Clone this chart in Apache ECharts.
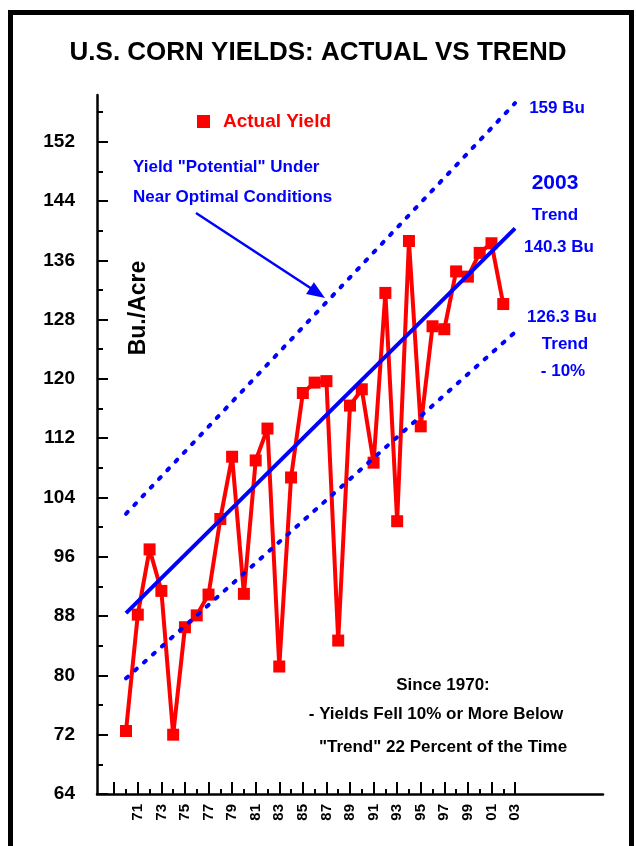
<!DOCTYPE html>
<html>
<head>
<meta charset="utf-8">
<script src="https://cdn.jsdelivr.net/npm/echarts@6/dist/echarts.min.js"></script>
<style>
html,body{margin:0;padding:0;background:#fff;}
#chart{width:636px;height:846px;}
</style>
</head>
<body>
<div id="chart"></div>
<script>
// ---- data ----
const years = [1970,1971,1972,1973,1974,1975,1976,1977,1978,1979,1980,1981,1982,1983,1984,1985,1986,1987,1988,1989,1990,1991,1992,1993,1994,1995,1996,1997,1998,1999,2000,2001,2002];
const actualYield = [72.5,88.2,97.0,91.4,72.0,86.5,88.1,90.9,101.1,109.5,91.0,109.0,113.3,81.2,106.7,118.1,119.5,119.7,84.7,116.4,118.6,108.7,131.6,100.8,138.6,113.6,127.1,126.7,134.5,133.8,137.0,138.3,130.1];
const trendYears = [1970, 2003];
const trendValues = [88.4, 140.3];
const upperValues = [101.8, 157.2];
const lowerValues = [79.6, 126.3];
const yMajorTicks = [64,72,80,88,96,104,112,120,128,136,144,152];
const yMinorTicks = [68,76,84,92,100,108,116,124,132,140,148,156];
const xMajorTicks = [1969,1971,1973,1975,1977,1979,1981,1983,1985,1987,1989,1991,1993,1995,1997,1999,2001,2003];
const xLabelYears = [1971,1973,1975,1977,1979,1981,1983,1985,1987,1989,1991,1993,1995,1997,1999,2001,2003];
const xMinorTicks = [1970,1972,1974,1976,1978,1980,1982,1984,1986,1988,1990,1992,1994,1996,1998,2000,2002];

const pair = (xs, ys) => xs.map((x, i) => [x, ys[i]]);
const FONT = 'Liberation Sans, Arial, sans-serif';
const BLUE = '#0000FF';
const RED = '#FF0000';

const chart = echarts.init(document.getElementById('chart'), null, {renderer: 'canvas'});
const yMin = 64, yMax = 158.3, xMin = 1967.54, xMax = 2010.46;

const option = {
  animation: false,
  backgroundColor: '#fff',
  grid: {left: 97, right: 33, top: 95, bottom: 52, containLabel: false},
  legend: {
    data: ['Actual Yield'],
    left: 197, top: 112, padding: 0,
    icon: 'rect', itemWidth: 13, itemHeight: 13,
    textStyle: {color: RED, fontSize: 19, fontWeight: 'bold', fontFamily: FONT, padding: [0,0,0,8]}
  },
  xAxis: [{
    type: 'value', min: xMin, max: xMax,
    axisLine: {show: true, lineStyle: {color: '#000', width: 2.5}},
    axisTick: {show: true, inside: true, length: 12, customValues: xMajorTicks, lineStyle: {color: '#000', width: 2}},
    axisLabel: {show: true, customValues: xLabelYears, rotate: 90, margin: 10,
      formatter: v => String(v).slice(2),
      color: '#000', fontSize: 15, fontWeight: 'bold', fontFamily: FONT},
    splitLine: {show: false}
  }, {
    type: 'value', min: xMin, max: xMax, position: 'bottom',
    axisLine: {show: false},
    axisTick: {show: true, inside: true, length: 5, customValues: xMinorTicks, lineStyle: {color: '#000', width: 2}},
    axisLabel: {show: false},
    splitLine: {show: false}
  }],
  yAxis: [{
    type: 'value', min: yMin, max: yMax,
    axisLine: {show: true, lineStyle: {color: '#000', width: 2.5}},
    axisTick: {show: true, inside: true, length: 11, customValues: yMajorTicks, lineStyle: {color: '#000', width: 2}},
    axisLabel: {show: true, customValues: yMajorTicks, margin: 22,
      color: '#000', fontSize: 19, fontWeight: 'bold', fontFamily: FONT},
    splitLine: {show: false}
  }, {
    type: 'value', min: yMin, max: yMax, position: 'left',
    axisLine: {show: false},
    axisTick: {show: true, inside: true, length: 6, customValues: yMinorTicks, lineStyle: {color: '#000', width: 2}},
    axisLabel: {show: false},
    splitLine: {show: false}
  }],
  series: [
    {
      name: 'Actual Yield', type: 'line', xAxisIndex: 0, yAxisIndex: 0,
      data: pair(years, actualYield),
      symbol: 'rect', symbolSize: 12,
      lineStyle: {color: RED, width: 4},
      itemStyle: {color: RED},
      z: 2
    },
    {
      name: 'Trend', type: 'line', xAxisIndex: 0, yAxisIndex: 0,
      data: pair(trendYears, trendValues),
      symbol: 'none', lineStyle: {color: BLUE, width: 4}, z: 3
    },
    {
      name: 'Potential', type: 'line', xAxisIndex: 0, yAxisIndex: 0,
      data: pair(trendYears, upperValues),
      symbol: 'none', lineStyle: {color: BLUE, width: 4, type: [2.5, 9.5], cap: 'round'}, z: 3
    },
    {
      name: 'Trend -10%', type: 'line', xAxisIndex: 0, yAxisIndex: 0,
      data: pair(trendYears, lowerValues),
      symbol: 'none', lineStyle: {color: BLUE, width: 4, type: [2.5, 9.5], cap: 'round'}, z: 3
    }
  ],
  graphic: [
    {type: 'rect', shape: {x: 10.5, y: 12.5, width: 621, height: 900}, style: {fill: null, stroke: '#000', lineWidth: 5}, silent: true},
    {type: 'text', left: 'center', x: 0, top: 40, style: {text: 'U.S. CORN YIELDS: ACTUAL VS TREND', fill: '#000', font: 'bold 26px ' + FONT, textAlign: 'center'}},
    {type: 'text', x: 133, y: 167, style: {text: 'Yield "Potential" Under', fill: BLUE, font: 'bold 17px ' + FONT, textVerticalAlign: 'middle'}},
    {type: 'text', x: 133, y: 197, style: {text: 'Near Optimal Conditions', fill: BLUE, font: 'bold 17px ' + FONT, textVerticalAlign: 'middle'}},
    {type: 'line', shape: {x1: 196, y1: 213, x2: 312, y2: 289}, style: {stroke: BLUE, lineWidth: 2.5}},
    {type: 'polygon', shape: {points: [[325,298],[306.1,294.0],[313.9,282.2]]}, style: {fill: BLUE}},
    {type: 'text', x: 139, y: 308, rotation: Math.PI/2, style: {text: 'Bu./Acre', fill: '#000', font: 'bold 23px ' + FONT, textAlign: 'center', textVerticalAlign: 'middle'}},
    {type: 'text', x: 557, y: 108, style: {text: '159 Bu', fill: BLUE, font: 'bold 17px ' + FONT, textAlign: 'center', textVerticalAlign: 'middle'}},
    {type: 'text', x: 555, y: 183, style: {text: '2003', fill: BLUE, font: 'bold 21px ' + FONT, textAlign: 'center', textVerticalAlign: 'middle'}},
    {type: 'text', x: 555, y: 215, style: {text: 'Trend', fill: BLUE, font: 'bold 17px ' + FONT, textAlign: 'center', textVerticalAlign: 'middle'}},
    {type: 'text', x: 559, y: 247, style: {text: '140.3 Bu', fill: BLUE, font: 'bold 17px ' + FONT, textAlign: 'center', textVerticalAlign: 'middle'}},
    {type: 'text', x: 562, y: 317, style: {text: '126.3 Bu', fill: BLUE, font: 'bold 17px ' + FONT, textAlign: 'center', textVerticalAlign: 'middle'}},
    {type: 'text', x: 565, y: 344, style: {text: 'Trend', fill: BLUE, font: 'bold 17px ' + FONT, textAlign: 'center', textVerticalAlign: 'middle'}},
    {type: 'text', x: 563, y: 371, style: {text: '- 10%', fill: BLUE, font: 'bold 17px ' + FONT, textAlign: 'center', textVerticalAlign: 'middle'}},
    {type: 'text', x: 443, y: 685, style: {text: 'Since 1970:', fill: '#000', font: 'bold 17px ' + FONT, textAlign: 'center', textVerticalAlign: 'middle'}},
    {type: 'text', x: 436, y: 714, style: {text: '- Yields Fell 10% or More Below', fill: '#000', font: 'bold 17px ' + FONT, textAlign: 'center', textVerticalAlign: 'middle'}},
    {type: 'text', x: 443, y: 747, style: {text: '"Trend" 22 Percent of the Time', fill: '#000', font: 'bold 17px ' + FONT, textAlign: 'center', textVerticalAlign: 'middle'}}
  ]
};
chart.setOption(option);
</script>
</body>
</html>
